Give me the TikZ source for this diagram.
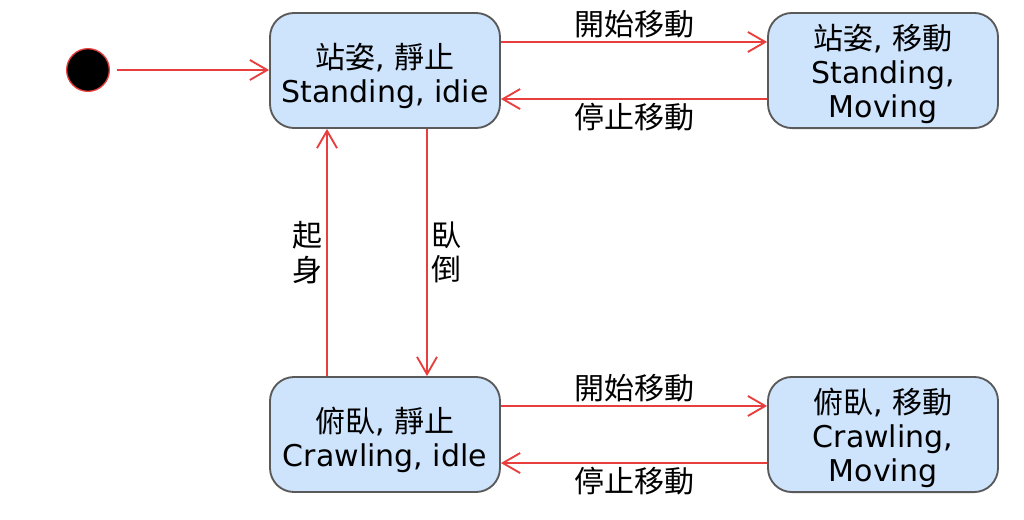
\documentclass[tikz,border=0pt]{standalone}
\usepackage{fontspec}
\setmainfont{DejaVu Sans}
\newfontfamily\cjk{Noto Sans CJK TC}
\usepackage{xcolor}
\usepackage{tikz}
\usetikzlibrary{arrows.meta,positioning}
\definecolor{stfill}{RGB}{206,228,252}
\definecolor{stline}{RGB}{90,90,90}
\definecolor{trred}{RGB}{232,62,62}
\newcommand{\hstrut}{\rule{0pt}{27pt}}
\newcommand{\mstrut}{\rule{0pt}{24pt}}

\begin{document}
\begin{tikzpicture}[x=0.75pt,y=-0.75pt,
     st/.style={rectangle,rounded corners=18pt,draw=stline,line width=1.4pt,fill=stfill,minimum width=172.5pt,minimum height=86.25pt,align=center,font=\fontsize{22.5}{25.5}\selectfont},
     tr/.style={draw=trred,line width=1.4pt,-{Straight Barb[length=13pt,width=15pt]}},
     lb/.style={font=\fontsize{22.5}{26}\selectfont\cjk,inner sep=2.5pt,align=center}]
   \useasboundingbox (0,0) rectangle (1024,519);
   \node[circle,fill=black,draw=trred,line width=1pt,minimum size=32pt,inner sep=0pt] (init) at (88,70){};
   \node[st] (si) at (385,70.5){\hstrut{\cjk 站姿}, {\cjk 靜止}\\Standing, idie};
   \node[st] (sm) at (883,70.5){\mstrut{\cjk 站姿}, {\cjk 移動}\\Standing,\\Moving};
   \node[st] (ci) at (385,434.5){\hstrut{\cjk 俯臥}, {\cjk 靜止}\\Crawling, idle};
   \node[st] (cm) at (883,434.5){\mstrut{\cjk 俯臥}, {\cjk 移動}\\Crawling,\\Moving};
   \draw[tr,shorten <=5pt] (init) -- (init -| si.west);
   \draw[tr] ([yshift=21.4pt]si.east) -- node[lb,above]{開始移動} ([yshift=21.4pt]sm.west);
   \draw[tr] ([yshift=-21.4pt]sm.west) -- node[lb,below]{停止移動} ([yshift=-21.4pt]si.east);
   \draw[tr] ([yshift=21.4pt]ci.east) -- node[lb,above]{開始移動} ([yshift=21.4pt]cm.west);
   \draw[tr] ([yshift=-21.4pt]cm.west) -- node[lb,below]{停止移動} ([yshift=-21.4pt]ci.east);
   \draw[tr] ([xshift=-43.5pt]ci.north) -- node[lb,left]{起\\身} ([xshift=-43.5pt]si.south);
   \draw[tr] ([xshift=31.5pt]si.south) -- node[lb,right]{臥\\倒} ([xshift=31.5pt]ci.north);
\end{tikzpicture}
\end{document}
